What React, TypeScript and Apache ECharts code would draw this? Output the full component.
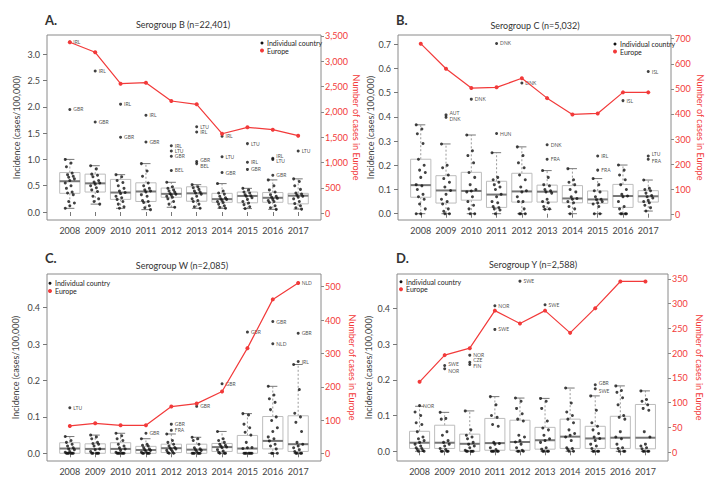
import React, { useEffect, useRef } from 'react';
import * as echarts from 'echarts';

const YEARS = [2008, 2009, 2010, 2011, 2012, 2013, 2014, 2015, 2016, 2017];
const LEGEND_NAMES = ['Individual country', 'Europe'];

// ---------- Panel A: Serogroup B ----------
// box stats per year: [min, q1, median, q3, max]
const A_BOX = [
  [0.07, 0.355, 0.585, 0.75, 1.0],
  [0.15, 0.38, 0.545, 0.72, 0.88],
  [0.07, 0.24, 0.37, 0.62, 0.71],
  [0.045, 0.2, 0.39, 0.555, 0.92],
  [0.09, 0.28, 0.345, 0.455, 0.565],
  [0.07, 0.205, 0.355, 0.48, 0.52],
  [0.07, 0.185, 0.245, 0.355, 0.54],
  [0.065, 0.175, 0.305, 0.38, 0.45],
  [0.05, 0.185, 0.27, 0.37, 0.61],
  [0.055, 0.155, 0.31, 0.355, 0.63],
];
const A_POINTS = [
  [1.0, 0.93, 0.86, 0.74, 0.71, 0.68, 0.66, 0.63, 0.6, 0.55, 0.5, 0.45, 0.38, 0.36, 0.33, 0.2, 0.17, 0.12, 0.07],
  [0.88, 0.82, 0.72, 0.7, 0.67, 0.6, 0.57, 0.55, 0.53, 0.5, 0.46, 0.42, 0.39, 0.3, 0.25, 0.2, 0.15],
  [0.71, 0.67, 0.6, 0.56, 0.5, 0.45, 0.4, 0.37, 0.35, 0.3, 0.27, 0.24, 0.2, 0.15, 0.1, 0.07],
  [0.92, 0.78, 0.68, 0.55, 0.5, 0.45, 0.42, 0.4, 0.38, 0.33, 0.3, 0.22, 0.2, 0.18, 0.12, 0.08, 0.045],
  [0.565, 0.48, 0.45, 0.42, 0.4, 0.38, 0.35, 0.34, 0.32, 0.3, 0.28, 0.25, 0.2, 0.15, 0.09],
  [0.52, 0.48, 0.46, 0.43, 0.4, 0.38, 0.36, 0.34, 0.3, 0.25, 0.22, 0.2, 0.15, 0.1, 0.07],
  [0.54, 0.4, 0.36, 0.34, 0.3, 0.27, 0.25, 0.24, 0.22, 0.2, 0.18, 0.15, 0.12, 0.09, 0.07],
  [0.45, 0.42, 0.38, 0.36, 0.33, 0.31, 0.3, 0.27, 0.24, 0.2, 0.17, 0.14, 0.1, 0.065],
  [0.61, 0.5, 0.42, 0.38, 0.33, 0.3, 0.28, 0.26, 0.24, 0.22, 0.2, 0.18, 0.12, 0.08, 0.05],
  [0.63, 0.58, 0.5, 0.43, 0.36, 0.34, 0.32, 0.3, 0.28, 0.25, 0.2, 0.16, 0.12, 0.08, 0.055],
];
const A_LABELLED: [number, number, string][] = [
  [2008, 3.23, 'IRL'], [2008, 1.95, 'GBR'],
  [2009, 2.68, 'IRL'], [2009, 1.71, 'GBR'],
  [2010, 2.05, 'IRL'], [2010, 1.42, 'GBR'],
  [2011, 1.84, 'IRL'], [2011, 1.33, 'GBR'],
  [2012, 1.26, 'IRL'], [2012, 1.16, 'LTU'], [2012, 1.06, 'GBR'], [2012, 0.79, 'BEL'],
  [2013, 1.62, 'LTU'], [2013, 1.52, 'IRL'], [2013, 0.96, 'GBR'], [2013, 0.92, 'BEL'],
  [2014, 1.44, 'IRL'], [2014, 1.05, 'LTU'], [2014, 0.75, 'GBR'],
  [2015, 1.3, 'LTU'], [2015, 0.945, 'IRL'], [2015, 0.81, 'GBR'],
  [2016, 1.02, 'IRL'], [2016, 1.0, 'LTU'], [2016, 0.7, 'GBR'],
  [2017, 1.16, 'LTU'],
];
const A_EUROPE = [3375, 3178, 2558, 2578, 2217, 2151, 1571, 1697, 1650, 1532];
const A_LEFT_TICKS = [0, 0.5, 1, 1.5, 2, 2.5, 3];
const A_RIGHT_TICKS = [0, 500, 1000, 1500, 2000, 2500, 3000, 3500];

// ---------- Panel B: Serogroup C ----------
const B_BOX = [
  [0, 0.068, 0.118, 0.225, 0.367],
  [0, 0.044, 0.096, 0.157, 0.288],
  [0, 0.056, 0.094, 0.171, 0.325],
  [0, 0.026, 0.079, 0.134, 0.252],
  [0, 0.048, 0.092, 0.167, 0.276],
  [0.018, 0.048, 0.091, 0.118, 0.178],
  [0, 0.045, 0.063, 0.116, 0.186],
  [0, 0.043, 0.059, 0.094, 0.145],
  [0, 0.026, 0.073, 0.121, 0.201],
  [0.011, 0.048, 0.072, 0.095, 0.139],
];
const B_POINTS = [
  [0.367, 0.35, 0.33, 0.29, 0.225, 0.2, 0.18, 0.17, 0.15, 0.12, 0.115, 0.1, 0.08, 0.07, 0.06, 0.04, 0.02, 0, 0],
  [0.288, 0.2, 0.19, 0.16, 0.145, 0.13, 0.11, 0.096, 0.08, 0.06, 0.05, 0.04, 0.02, 0.01, 0, 0],
  [0.325, 0.26, 0.24, 0.21, 0.17, 0.15, 0.12, 0.1, 0.094, 0.09, 0.07, 0.05, 0.035, 0.02, 0, 0],
  [0.252, 0.15, 0.14, 0.13, 0.12, 0.11, 0.1, 0.08, 0.07, 0.05, 0.045, 0.03, 0.025, 0.02, 0.015, 0],
  [0.276, 0.24, 0.21, 0.19, 0.16, 0.14, 0.11, 0.095, 0.09, 0.07, 0.05, 0.05, 0.02, 0, 0, 0],
  [0.178, 0.15, 0.12, 0.115, 0.1, 0.095, 0.09, 0.085, 0.06, 0.05, 0.045, 0.03, 0.02, 0.018],
  [0.186, 0.14, 0.13, 0.12, 0.1, 0.09, 0.07, 0.063, 0.06, 0.05, 0.045, 0.03, 0.02, 0],
  [0.145, 0.12, 0.095, 0.09, 0.07, 0.06, 0.058, 0.05, 0.045, 0.04, 0.03, 0, 0],
  [0.201, 0.18, 0.16, 0.14, 0.12, 0.1, 0.08, 0.073, 0.07, 0.05, 0.03, 0.02, 0, 0, 0, 0],
  [0.139, 0.105, 0.1, 0.095, 0.085, 0.075, 0.07, 0.065, 0.055, 0.05, 0.045, 0.035, 0.025, 0.011],
];
const B_LABELLED: [number, number, string][] = [
  [2009, 0.408, 'AUT'], [2009, 0.398, 'DNK'],
  [2010, 0.473, 'DNK'],
  [2011, 0.703, 'DNK'], [2011, 0.331, 'HUN'],
  [2012, 0.54, 'DNK'],
  [2013, 0.285, 'DNK'], [2013, 0.225, 'FRA'],
  [2015, 0.238, 'IRL'], [2015, 0.18, 'FRA'],
  [2016, 0.467, 'ISL'],
  [2017, 0.587, 'ISL'], [2017, 0.238, 'LTU'], [2017, 0.225, 'FRA'],
];
const B_EUROPE = [680, 580, 503, 506, 542, 463, 398, 402, 486, 486];
const B_LEFT_TICKS = [0, 0.1, 0.2, 0.3, 0.4, 0.5, 0.6, 0.7];
const B_RIGHT_TICKS = [0, 100, 200, 300, 400, 500, 600, 700];

// ---------- Panel C: Serogroup W ----------
const C_BOX = [
  [0, 0, 0.013, 0.029, 0.046],
  [0, 0, 0.012, 0.026, 0.05],
  [0, 0, 0.012, 0.029, 0.055],
  [0, 0, 0.009, 0.019, 0.04],
  [0, 0.002, 0.014, 0.025, 0.053],
  [0, 0, 0.01, 0.025, 0.044],
  [0, 0.005, 0.017, 0.027, 0.06],
  [0, 0, 0.013, 0.049, 0.109],
  [0, 0.012, 0.034, 0.101, 0.184],
  [0, 0.005, 0.025, 0.103, 0.244],
];
const C_POINTS = [
  [0.046, 0.035, 0.03, 0.025, 0.02, 0.015, 0.012, 0.01, 0.005, 0.003, 0, 0, 0, 0, 0, 0],
  [0.05, 0.045, 0.04, 0.03, 0.027, 0.025, 0.02, 0.012, 0.01, 0.005, 0, 0, 0, 0, 0],
  [0.055, 0.048, 0.04, 0.035, 0.025, 0.02, 0.015, 0.012, 0.008, 0.003, 0, 0, 0, 0, 0, 0],
  [0.04, 0.025, 0.022, 0.02, 0.015, 0.012, 0.01, 0.008, 0.005, 0.003, 0, 0, 0, 0, 0],
  [0.053, 0.035, 0.03, 0.025, 0.02, 0.016, 0.014, 0.012, 0.01, 0.008, 0.005, 0.002, 0, 0],
  [0.044, 0.04, 0.035, 0.025, 0.015, 0.012, 0.01, 0.008, 0.005, 0, 0, 0, 0, 0, 0],
  [0.06, 0.04, 0.035, 0.03, 0.025, 0.022, 0.02, 0.017, 0.015, 0.01, 0.006, 0.003, 0, 0, 0],
  [0.109, 0.105, 0.08, 0.07, 0.058, 0.05, 0.03, 0.016, 0.015, 0.013, 0, 0, 0, 0, 0, 0, 0],
  [0.184, 0.16, 0.15, 0.14, 0.12, 0.1, 0.09, 0.07, 0.06, 0.045, 0.04, 0.034, 0.025, 0.02, 0.012, 0, 0, 0],
  [0.244, 0.175, 0.11, 0.1, 0.085, 0.06, 0.03, 0.025, 0.02, 0.015, 0.01, 0.005, 0, 0, 0, 0],
];
const C_LABELLED: [number, number, string][] = [
  [2008, 0.125, 'LTU'],
  [2011, 0.055, 'GBR'],
  [2012, 0.08, 'GBR'], [2012, 0.063, 'FRA'],
  [2013, 0.129, 'GBR'],
  [2014, 0.191, 'GBR'],
  [2015, 0.333, 'GBR'],
  [2016, 0.362, 'GBR'], [2016, 0.301, 'NLD'],
  [2017, 0.468, 'NLD'], [2017, 0.33, 'GBR'], [2017, 0.252, 'IRL'],
];
const C_EUROPE = [83, 91, 85, 85, 141, 150, 186, 316, 462, 511];
const C_LEFT_TICKS = [0, 0.1, 0.2, 0.3, 0.4];
const C_RIGHT_TICKS = [0, 100, 200, 300, 400, 500];

// ---------- Panel D: Serogroup Y ----------
const D_BOX = [
  [0, 0.008, 0.024, 0.056, 0.126],
  [0, 0.008, 0.024, 0.073, 0.109],
  [0, 0, 0.021, 0.048, 0.113],
  [0, 0.003, 0.023, 0.092, 0.153],
  [0, 0.003, 0.026, 0.087, 0.149],
  [0, 0.006, 0.031, 0.067, 0.148],
  [0, 0.008, 0.041, 0.09, 0.177],
  [0, 0.008, 0.036, 0.07, 0.155],
  [0, 0.008, 0.038, 0.098, 0.183],
  [0, 0.007, 0.038, 0.131, 0.169],
];
const D_POINTS = [
  [0.11, 0.1, 0.08, 0.075, 0.055, 0.04, 0.035, 0.03, 0.025, 0.02, 0.015, 0.01, 0.008, 0.005, 0.002, 0, 0],
  [0.109, 0.092, 0.09, 0.055, 0.045, 0.03, 0.025, 0.02, 0.015, 0.008, 0.005, 0, 0, 0, 0],
  [0.113, 0.06, 0.045, 0.04, 0.035, 0.025, 0.02, 0.015, 0.01, 0.003, 0, 0, 0, 0, 0],
  [0.153, 0.13, 0.1, 0.095, 0.075, 0.07, 0.025, 0.022, 0.02, 0.01, 0.005, 0, 0, 0, 0, 0],
  [0.149, 0.14, 0.12, 0.105, 0.09, 0.085, 0.045, 0.04, 0.03, 0.026, 0.02, 0.01, 0.003, 0, 0, 0],
  [0.148, 0.14, 0.12, 0.085, 0.065, 0.06, 0.045, 0.035, 0.03, 0.025, 0.01, 0.006, 0, 0, 0, 0],
  [0.177, 0.135, 0.11, 0.1, 0.09, 0.08, 0.06, 0.05, 0.045, 0.04, 0.03, 0.01, 0.008, 0.005, 0, 0],
  [0.155, 0.115, 0.08, 0.07, 0.06, 0.05, 0.04, 0.036, 0.03, 0.02, 0.015, 0.008, 0, 0, 0, 0],
  [0.183, 0.17, 0.165, 0.15, 0.13, 0.1, 0.095, 0.09, 0.055, 0.04, 0.035, 0.02, 0.01, 0.008, 0, 0, 0],
  [0.169, 0.145, 0.14, 0.13, 0.12, 0.115, 0.055, 0.04, 0.02, 0.015, 0.01, 0.007, 0, 0, 0, 0],
];
const D_LABELLED: [number, number, string][] = [
  [2008, 0.128, 'NOR'],
  [2009, 0.24, 'SWE'], [2009, 0.231, 'NOR'],
  [2010, 0.269, 'NOR'], [2010, 0.249, 'CZE'], [2010, 0.243, 'FIN'],
  [2011, 0.407, 'NOR'], [2011, 0.341, 'SWE'],
  [2012, 0.476, 'SWE'],
  [2013, 0.41, 'SWE'],
  [2015, 0.186, 'GBR'], [2015, 0.175, 'SWE'],
];
const D_EUROPE = [142, 196, 210, 286, 260, 286, 241, 291, 345, 345];
const D_LEFT_TICKS = [0, 0.1, 0.2, 0.3, 0.4];
const D_RIGHT_TICKS = [0, 50, 100, 150, 200, 250, 300, 350];

const FONT = 'Lato, "Open Sans", "DejaVu Sans", sans-serif';
const RED = '#f23a3a';
const DOT = '#111111';
const LEFT_TITLE = 'Incidence (cases/100,000)';
const RIGHT_TITLE = 'Number of cases in Europe';

const PANELS = [
  {
    letter: 'A.', title: 'Serogroup B (n=22,401)',
    box: A_BOX, points: A_POINTS, labelled: A_LABELLED, europe: A_EUROPE,
    leftTicks: A_LEFT_TICKS, rightTicks: A_RIGHT_TICKS,
    grid: { left: 47, top: 35, width: 274, height: 185 },
    yRange: [-0.152, 3.365], rRange: [-132, 3519],
    letterPos: [45, 20], titlePos: [183, 24.5], leftGap: 26, rightGap: 29, legendPos: [262, 43],
  },
  {
    letter: 'B.', title: 'Serogroup C (n=5,032)',
    box: B_BOX, points: B_POINTS, labelled: B_LABELLED, europe: B_EUROPE,
    leftTicks: B_LEFT_TICKS, rightTicks: B_RIGHT_TICKS,
    grid: { left: 398, top: 35, width: 273, height: 185 },
    yRange: [-0.026, 0.738], rRange: [-22.7, 714.6],
    letterPos: [396, 20], titlePos: [535, 25.5], leftGap: 20, rightGap: 25, legendPos: [615, 44],
  },
  {
    letter: 'C.', title: 'Serogroup W (n=2,085)',
    box: C_BOX, points: C_POINTS, labelled: C_LABELLED, europe: C_EUROPE,
    leftTicks: C_LEFT_TICKS, rightTicks: C_RIGHT_TICKS,
    grid: { left: 47, top: 274, width: 274, height: 187 },
    yRange: [-0.0212, 0.4926], rRange: [-21.9, 538],
    letterPos: [45, 258], titlePos: [182, 265.5], leftGap: 27, rightGap: 27, legendPos: [50, 283.3],
  },
  {
    letter: 'D.', title: 'Serogroup Y (n=2,588)',
    box: D_BOX, points: D_POINTS, labelled: D_LABELLED, europe: D_EUROPE,
    leftTicks: D_LEFT_TICKS, rightTicks: D_RIGHT_TICKS,
    grid: { left: 397, top: 274, width: 271, height: 187 },
    yRange: [-0.0271, 0.496], rRange: [-18.2, 360.1],
    letterPos: [396, 258], titlePos: [533, 264], leftGap: 24, rightGap: 27, legendPos: [401, 281.7],
  },
];

const jitter = (j: number) => (((j * 5) % 9) - 4) * 0.045;

const renderBox = (params: any, api: any) => {
  const x = api.value(0);
  const lo = api.coord([x, api.value(1)]);
  const q1 = api.coord([x, api.value(2)]);
  const md = api.coord([x, api.value(3)]);
  const q3 = api.coord([x, api.value(4)]);
  const hi = api.coord([x, api.value(5)]);
  const half = api.size([0.4, 0])[0];
  const cap = half * 0.45;
  const cx = lo[0];
  const dash = { stroke: '#9a9a9a', lineWidth: 1, lineDash: [2, 2] };
  const capStyle = { stroke: '#777', lineWidth: 1 };
  return {
    type: 'group',
    children: [
      { type: 'line', shape: { x1: cx, y1: q3[1], x2: cx, y2: hi[1] }, style: dash },
      { type: 'line', shape: { x1: cx, y1: q1[1], x2: cx, y2: lo[1] }, style: dash },
      { type: 'line', shape: { x1: cx - cap, y1: hi[1], x2: cx + cap, y2: hi[1] }, style: capStyle },
      { type: 'line', shape: { x1: cx - cap, y1: lo[1], x2: cx + cap, y2: lo[1] }, style: capStyle },
      {
        type: 'rect',
        shape: { x: cx - half, y: q3[1], width: 2 * half, height: q1[1] - q3[1] },
        style: { fill: 'none', stroke: '#bdbdbd', lineWidth: 1 },
      },
      { type: 'line', shape: { x1: cx - half, y1: md[1], x2: cx + half, y2: md[1] }, style: { stroke: '#777', lineWidth: 2 } },
    ],
  };
};

function buildOption() {
  const grid = PANELS.map((p) => ({
    ...p.grid, show: true, borderColor: '#8a8a8a', borderWidth: 1, backgroundColor: 'transparent',
  }));
  const xAxis = PANELS.map((p, i) => ({
    type: 'value', gridIndex: i, min: 2007.1, max: 2017.9,
    axisLine: { show: false }, splitLine: { show: false },
    axisTick: { show: true, length: 4, lineStyle: { color: '#777' }, customValues: YEARS },
    axisLabel: { customValues: YEARS, formatter: (v: number) => String(Math.round(v)), fontSize: 9, color: '#444', margin: 6, fontFamily: FONT },
  }));
  const yAxis = PANELS.flatMap((p, i) => [
    {
      type: 'value', gridIndex: i, position: 'left', min: p.yRange[0], max: p.yRange[1],
      axisLine: { show: false }, splitLine: { show: false },
      axisTick: { show: true, length: 4, lineStyle: { color: '#777' }, customValues: p.leftTicks },
      axisLabel: { customValues: p.leftTicks, formatter: (v: number) => v.toFixed(1), fontSize: 9, color: '#444', margin: 7, fontFamily: FONT },
      name: LEFT_TITLE, nameLocation: 'middle', nameRotate: 90, nameGap: p.leftGap,
      nameTextStyle: { fontSize: 9, color: '#444', fontFamily: FONT },
    },
    {
      type: 'value', gridIndex: i, position: 'right', min: p.rRange[0], max: p.rRange[1],
      axisLine: { show: false }, splitLine: { show: false },
      axisTick: { show: true, length: 3, lineStyle: { color: '#888' }, customValues: p.rightTicks },
      axisLabel: { customValues: p.rightTicks, formatter: (v: number) => Math.round(v).toLocaleString('en-US'), fontSize: 9, color: RED, margin: 4, fontFamily: FONT },
      name: RIGHT_TITLE, nameLocation: 'middle', nameRotate: -90, nameGap: p.rightGap,
      nameTextStyle: { fontSize: 9, color: RED, fontFamily: FONT },
    },
  ]);
  const legendColors = [DOT, RED];
  const graphic = PANELS.flatMap((p) => [
    {
      type: 'text', x: p.letterPos[0], y: p.letterPos[1],
      style: { text: p.letter, font: `bold 13px ${FONT}`, fill: '#333', verticalAlign: 'middle', textVerticalAlign: 'middle' },
    },
    {
      type: 'text', x: p.titlePos[0], y: p.titlePos[1],
      style: { text: p.title, font: `9px ${FONT}`, fill: '#333', align: 'center', textAlign: 'center', verticalAlign: 'middle', textVerticalAlign: 'middle' },
    },
    ...LEGEND_NAMES.flatMap((name, k) => [
      {
        type: 'circle',
        shape: { cx: p.legendPos[0], cy: p.legendPos[1] + k * 7.6, r: k === 0 ? 1.5 : 2 },
        style: { fill: legendColors[k] },
      },
      {
        type: 'text', x: p.legendPos[0] + 5, y: p.legendPos[1] + k * 7.6,
        style: { text: name, font: `7px ${FONT}`, fill: '#222', verticalAlign: 'middle', textVerticalAlign: 'middle' },
      },
    ]),
  ]);
  const series = PANELS.flatMap((p, i) => {
    const yl = 2 * i;
    const yr = 2 * i + 1;
    const boxData = YEARS.map((y, k) => [y, ...p.box[k]]);
    const pts: number[][] = [];
    YEARS.forEach((y, k) => p.points[k].forEach((v, j) => pts.push([y + jitter(j), v])));
    const thr = 0.025 * (p.yRange[1] - p.yRange[0]);
    const lab = p.labelled.map((item) => {
      const [y, v, code] = item;
      const near = p.labelled.find((o) => o !== item && o[0] === y && Math.abs(o[1] - v) < thr);
      const dy = near ? (near[1] < v ? -2 : 2) : 0;
      return { value: [y, v], name: code, label: { offset: [0, dy] } };
    });
    return [
      {
        type: 'custom', name: 'box', xAxisIndex: i, yAxisIndex: yl, data: boxData,
        encode: { x: 0, y: [1, 2, 3, 4, 5] }, renderItem: renderBox, silent: true, z: 1,
        itemStyle: { color: '#999' },
      },
      {
        type: 'scatter', name: LEGEND_NAMES[0], xAxisIndex: i, yAxisIndex: yl, data: pts,
        symbolSize: 3, itemStyle: { color: DOT }, silent: true, z: 3,
      },
      {
        type: 'scatter', name: LEGEND_NAMES[0], xAxisIndex: i, yAxisIndex: yl, data: lab,
        symbolSize: 3, itemStyle: { color: DOT }, silent: true, z: 3,
        label: { show: true, position: 'right', distance: 2, formatter: '{b}', fontSize: 5, color: '#222', fontFamily: FONT },
      },
      {
        type: 'line', name: LEGEND_NAMES[1], xAxisIndex: i, yAxisIndex: yr,
        data: YEARS.map((y, k) => [y, p.europe[k]]),
        symbol: 'circle', symbolSize: 4, showSymbol: true,
        lineStyle: { color: RED, width: 1.2 }, itemStyle: { color: RED }, z: 4, silent: true,
      },
    ];
  });
  return {
    animation: false,
    backgroundColor: '#fff',
    color: [DOT, RED, '#999'],
    textStyle: { fontFamily: FONT },
    grid, xAxis, yAxis, graphic, series,
  };
}

export default function App() {
  const ref = useRef<HTMLDivElement>(null);
  useEffect(() => {
    document.body.style.margin = '0';
    if (!ref.current) return;
    const chart = echarts.init(ref.current, undefined, { renderer: 'svg' });
    chart.setOption(buildOption() as any);
    return () => chart.dispose();
  }, []);
  return <div ref={ref} style={{ position: 'fixed', left: 0, top: 0, width: 725, height: 490 }} />;
}
